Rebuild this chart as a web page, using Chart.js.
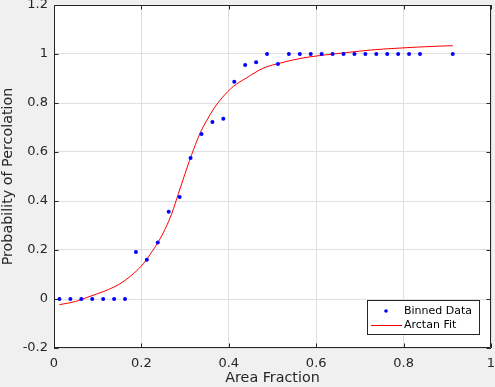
<!DOCTYPE html>
<html>
<head>
<meta charset="utf-8">
<script src="https://cdn.jsdelivr.net/npm/chart.js@4/dist/chart.umd.min.js"></script>
<style>
  html, body { margin: 0; padding: 0; background: #f0f0f0; }
  #wrap { width: 495px; height: 387px; position: relative; }
</style>
</head>
<body>
<div id="wrap"><canvas id="chart"></canvas></div>
<script>
// ── Data ─────────────────────────────────────────────────
const binX = [0.0125, 0.0375, 0.0625, 0.0875, 0.1125, 0.1375, 0.1625, 0.1875,
              0.2125, 0.2375, 0.2625, 0.2875, 0.3125, 0.3375, 0.3625, 0.3875,
              0.4125, 0.4375, 0.4625, 0.4875, 0.5125, 0.5375, 0.5625, 0.5875,
              0.6125, 0.6375, 0.6625, 0.6875, 0.7125, 0.7375, 0.7625, 0.7875,
              0.8125, 0.8375, 0.9125];
const binY = [0, 0, 0, 0, 0, 0, 0, 0.192,
              0.160, 0.231, 0.356, 0.416, 0.576, 0.673, 0.722, 0.736,
              0.887, 0.955, 0.966, 1, 0.959, 1, 1, 1,
              1, 1, 1, 1, 1, 1, 1, 1,
              1, 1, 1];

const fitX = [0.0125, 0.05, 0.075, 0.1, 0.125, 0.15, 0.175, 0.2, 0.21, 0.225,
              0.24, 0.255, 0.27, 0.285, 0.3, 0.31, 0.32, 0.335, 0.35, 0.365,
              0.385, 0.41, 0.44, 0.48, 0.52, 0.57, 0.62, 0.67, 0.73, 0.78,
              0.83, 0.88, 0.9125];
const fitY = [-0.023, -0.010, 0.006, 0.022, 0.039, 0.061, 0.093, 0.135, 0.157, 0.195,
              0.237, 0.288, 0.351, 0.432, 0.512, 0.565, 0.613, 0.680, 0.730, 0.775,
              0.822, 0.867, 0.902, 0.943, 0.964, 0.984, 0.996, 1.006, 1.017, 1.023,
              1.028, 1.032, 1.034];

const xTicks = [0, 0.2, 0.4, 0.6, 0.8, 1];
const xTickLabels = ['0', '0.2', '0.4', '0.6', '0.8', '1'];
const yTicks = [-0.2, 0, 0.2, 0.4, 0.6, 0.8, 1, 1.2];
const yTickLabels = ['-0.2', '0', '0.2', '0.4', '0.6', '0.8', '1', '1.2'];

const seriesNames = ['Binned Data', 'Arctan Fit'];

// ── Styling ───────────────────────────────────────────────
const FONT = 'DejaVu Sans';
const INK = '#262626';
const GRID = '#dfdfdf';

// MATLAB style box with inward ticks on all four sides
const axesBox = {
  id: 'axesBox',
  afterDatasetsDraw(chart) {
    const { ctx, chartArea: a, scales } = chart;
    const tl = 4.5;
    ctx.save();
    ctx.strokeStyle = INK;
    ctx.lineWidth = 1;
    ctx.beginPath();
    ctx.rect(Math.round(a.left) + 0.5, Math.round(a.top) + 0.5,
             Math.round(a.right - a.left) - 1, Math.round(a.bottom - a.top) - 1);
    xTicks.forEach(v => {
      const x = Math.round(scales.x.getPixelForValue(v)) + 0.5;
      ctx.moveTo(x, a.bottom); ctx.lineTo(x, a.bottom - tl);
      ctx.moveTo(x, a.top);    ctx.lineTo(x, a.top + tl);
    });
    yTicks.forEach(v => {
      const y = Math.round(scales.y.getPixelForValue(v)) + 0.5;
      ctx.moveTo(a.left, y);  ctx.lineTo(a.left + tl, y);
      ctx.moveTo(a.right, y); ctx.lineTo(a.right - tl, y);
    });
    ctx.stroke();
    ctx.restore();
  },
  afterDraw(chart) {
    // legend box, lower right corner inside the axes
    const { ctx } = chart;
    const bx = 367.5, by = 300.5, bw = 112, bh = 34;
    ctx.save();
    ctx.fillStyle = '#ffffff';
    ctx.fillRect(bx, by, bw, bh);
    ctx.strokeStyle = INK;
    ctx.lineWidth = 1;
    ctx.strokeRect(bx, by, bw, bh);

    const row1 = 311, row2 = 325;
    ctx.fillStyle = '#0000ff';
    ctx.beginPath();
    ctx.arc(386, row1, 1.8, 0, Math.PI * 2);
    ctx.fill();

    ctx.strokeStyle = '#ff0000';
    ctx.beginPath();
    ctx.moveTo(371, row2 + 0.5);
    ctx.lineTo(402, row2 + 0.5);
    ctx.stroke();

    ctx.fillStyle = '#000000';
    ctx.font = '11px "' + FONT + '"';
    ctx.textBaseline = 'middle';
    ctx.textAlign = 'left';
    ctx.fillText(seriesNames[0], 404, row1);
    ctx.fillText(seriesNames[1], 404, row2);
    ctx.restore();
  }
};

new Chart(document.getElementById('chart'), {
  type: 'scatter',
  data: {
    datasets: [
      {
        label: seriesNames[0],
        data: binX.map((x, i) => ({ x, y: binY[i] })),
        showLine: false,
        pointRadius: 2,
        pointBorderWidth: 0,
        pointBackgroundColor: '#0000ff',
        pointBorderColor: '#0000ff',
        order: 1,
      },
      {
        label: seriesNames[1],
        data: fitX.map((x, i) => ({ x, y: fitY[i] })),
        showLine: true,
        borderColor: '#ff0000',
        borderWidth: 1,
        pointRadius: 0,
        cubicInterpolationMode: 'monotone',
        order: 2,
      },
    ],
  },
  options: {
    responsive: true,
    maintainAspectRatio: false,
    animation: false,
    layout: { padding: { top: 5, right: 4, left: 0, bottom: 0 } },
    plugins: {
      legend: { display: false },
      tooltip: { enabled: false },
    },
    scales: {
      x: {
        type: 'linear',
        min: 0, max: 1,
        afterBuildTicks: s => { s.ticks = xTicks.map(v => ({ value: v })); },
        afterFit: s => { s.height = 39; s.paddingLeft = 0; s.paddingRight = 0; },
        grid: { color: GRID, drawTicks: false },
        border: { display: false },
        ticks: {
          padding: 8,
          color: INK,
          font: { family: FONT, size: 13 },
          maxRotation: 0,
          callback: (v, i) => xTickLabels[i],
        },
        title: {
          display: true,
          text: 'Area Fraction',
          color: INK,
          font: { family: FONT, size: 14.3 },
          padding: { top: 0, bottom: 0 },
        },
      },
      y: {
        type: 'linear',
        min: -0.2, max: 1.2,
        afterBuildTicks: s => { s.ticks = yTicks.map(v => ({ value: v })); },
        afterFit: s => { s.width = 54; s.paddingTop = 0; s.paddingBottom = 0; },
        grid: { color: GRID, drawTicks: false },
        border: { display: false },
        ticks: {
          padding: 6,
          color: INK,
          font: { family: FONT, size: 13 },
          callback: (v, i) => yTickLabels[i],
        },
        title: {
          display: true,
          text: 'Probability of Percolation',
          color: INK,
          font: { family: FONT, size: 14.3 },
          padding: { top: 0, bottom: 0 },
        },
      },
    },
  },
  plugins: [axesBox, {
    id: 'plotBg',
    beforeDraw(chart) {
      const { ctx, chartArea: a } = chart;
      ctx.save();
      ctx.fillStyle = '#ffffff';
      ctx.fillRect(a.left, a.top, a.right - a.left, a.bottom - a.top);
      ctx.restore();
    }
  }],
});
</script>
</body>
</html>
